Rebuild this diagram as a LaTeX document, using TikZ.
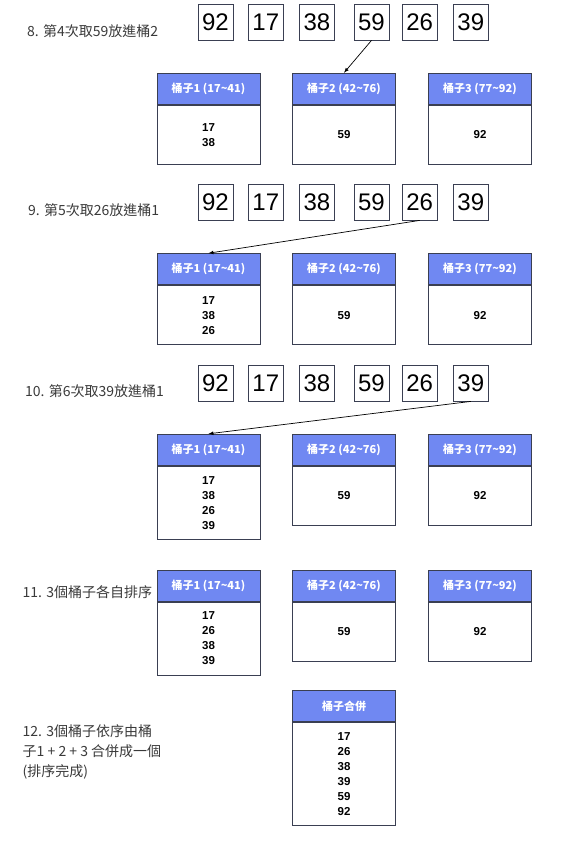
\documentclass[tikz,border=0pt]{standalone}
\usepackage{fontspec}
\setmainfont{Liberation Sans}
\newfontfamily\cjk{Noto Sans CJK TC}
\definecolor{headblue}{HTML}{7088F2}
\definecolor{edgegray}{HTML}{3A3F52}
\definecolor{labelgray}{HTML}{3A3A3A}
\tikzset{
  numbox/.style={draw=edgegray, line width=0.8pt, fill=white, minimum width=35pt, minimum height=36pt, inner sep=0pt, font=\fontsize{24}{24}\selectfont},
  bhead/.style={draw=edgegray, line width=1pt, fill=headblue, text=white, minimum width=103pt, minimum height=31pt, inner sep=0pt, font=\cjk\bfseries\fontsize{11}{11}\selectfont},
  bbody/.style={draw=edgegray, line width=1pt, fill=white, minimum width=103pt, inner sep=0pt, align=center, anchor=north, font=\bfseries\fontsize{11.5}{15}\selectfont},
  steplabel/.style={anchor=west, text=labelgray, inner sep=0pt, align=left, font=\cjk\fontsize{14}{20}\selectfont},
  moveto/.style={line width=0.7pt, -latex}
}
\begin{document}
\begin{tikzpicture}[x=1pt, y=-1pt]
  \useasboundingbox (0,0) rectangle (570,844);

  % Step 8
  \node[steplabel] (s8txt) at (27,31) {8. 第4次取59放進桶2};
  \node[numbox] (s8n1) at (215.5,22) {92};
  \node[numbox] (s8n2) at (265.8,22) {17};
  \node[numbox] (s8n3) at (317,22) {38};
  \node[numbox] (s8n4) at (371.5,22) {59};
  \node[numbox] (s8n5) at (419.7,22) {26};
  \node[numbox] (s8n6) at (470.8,22) {39};
  \node[bhead] (s8b1h) at (208.5,88.8) {桶子1 (17\textasciitilde41)};
  \node[bhead] (s8b2h) at (344,88.8) {桶子2 (42\textasciitilde76)};
  \node[bhead] (s8b3h) at (480,88.8) {桶子3 (77\textasciitilde92)};
  \node[bbody, minimum height=59pt] (s8b1) at (s8b1h.south) {17\\38};
  \node[bbody, minimum height=59pt] (s8b2) at (s8b2h.south) {59};
  \node[bbody, minimum height=59pt] (s8b3) at (s8b3h.south) {92};
  \draw[moveto] (s8n4.south) -- (s8b2h.north);

  % Step 9
  \node[steplabel] (s9txt) at (28,210) {9. 第5次取26放進桶1};
  \node[numbox] (s9n1) at (215.5,202) {92};
  \node[numbox] (s9n2) at (265.8,202) {17};
  \node[numbox] (s9n3) at (317,202) {38};
  \node[numbox] (s9n4) at (371.5,202) {59};
  \node[numbox] (s9n5) at (419.7,202) {26};
  \node[numbox] (s9n6) at (470.8,202) {39};
  \node[bhead] (s9b1h) at (208.5,269.2) {桶子1 (17\textasciitilde41)};
  \node[bhead] (s9b2h) at (344,269.2) {桶子2 (42\textasciitilde76)};
  \node[bhead] (s9b3h) at (480,269.2) {桶子3 (77\textasciitilde92)};
  \node[bbody, minimum height=59pt] (s9b1) at (s9b1h.south) {17\\38\\26};
  \node[bbody, minimum height=59pt] (s9b2) at (s9b2h.south) {59};
  \node[bbody, minimum height=59pt] (s9b3) at (s9b3h.south) {92};
  \draw[moveto] (s9n5.south) -- (s9b1h.north);

  % Step 10
  \node[steplabel] (s10txt) at (25,391) {10. 第6次取39放進桶1};
  \node[numbox] (s10n1) at (215.5,383) {92};
  \node[numbox] (s10n2) at (265.8,383) {17};
  \node[numbox] (s10n3) at (317,383) {38};
  \node[numbox] (s10n4) at (371.5,383) {59};
  \node[numbox] (s10n5) at (419.7,383) {26};
  \node[numbox] (s10n6) at (470.8,383) {39};
  \node[bhead] (s10b1h) at (208.5,449.8) {桶子1 (17\textasciitilde41)};
  \node[bhead] (s10b2h) at (344,449.8) {桶子2 (42\textasciitilde76)};
  \node[bhead] (s10b3h) at (480,449.8) {桶子3 (77\textasciitilde92)};
  \node[bbody, minimum height=73pt] (s10b1) at (s10b1h.south) {17\\38\\26\\39};
  \node[bbody, minimum height=59pt] (s10b2) at (s10b2h.south) {59};
  \node[bbody, minimum height=59pt] (s10b3) at (s10b3h.south) {92};
  \draw[moveto] (s10n6.south) -- (s10b1h.north);

  % Step 11
  \node[steplabel] (s11txt) at (22.5,592) {11. 3個桶子各自排序};
  \node[bhead] (s11b1h) at (208.5,585.5) {桶子1 (17\textasciitilde41)};
  \node[bhead] (s11b2h) at (344,585.5) {桶子2 (42\textasciitilde76)};
  \node[bhead] (s11b3h) at (480,585.5) {桶子3 (77\textasciitilde92)};
  \node[bbody, minimum height=73pt] (s11b1) at (s11b1h.south) {17\\26\\38\\39};
  \node[bbody, minimum height=59pt] (s11b2) at (s11b2h.south) {59};
  \node[bbody, minimum height=59pt] (s11b3) at (s11b3h.south) {92};

  % Step 12
  \node[steplabel] (s12txt) at (22.5,752) {12. 3個桶子依序由桶\\子1 + 2 + 3 合併成一個\\(排序完成)};
  \node[bhead] (s12bh) at (344,706.2) {桶子合併};
  \node[bbody, minimum height=103pt] (s12b) at (s12bh.south) {17\\26\\38\\39\\59\\92};
\end{tikzpicture}
\end{document}
